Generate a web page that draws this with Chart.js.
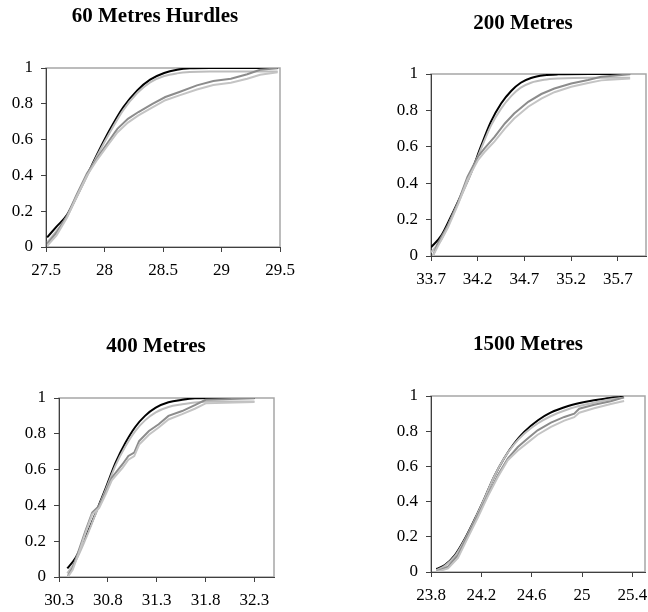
<!DOCTYPE html>
<html>
<head>
<meta charset="utf-8">
<script src="https://cdn.jsdelivr.net/npm/chart.js@4.4.1/dist/chart.umd.min.js"></script>
<style>
  html, body { margin: 0; padding: 0; background: #fff; }
  body { width: 648px; height: 612px; position: relative; overflow: hidden; }
  canvas { position: absolute; }
  .title {
    position: absolute; width: 300px; text-align: center;
    font: bold 21px/24px "Liberation Serif", "Times New Roman", serif; color: #000;
  }
</style>
</head>
<body>
<canvas id="c1"></canvas>
<canvas id="c2"></canvas>
<canvas id="c3"></canvas>
<canvas id="c4"></canvas>
<script>
// --- data (cumulative proportion vs time) ---
const yTicks = [0, 0.2, 0.4, 0.6, 0.8, 1];

// 60 Metres Hurdles
const hurdlesTicks = [27.5, 28, 28.5, 29, 29.5];
const hurdlesModelX = [27.51, 27.59, 27.68, 27.76, 27.85, 27.95, 28.05, 28.16, 28.28, 28.39, 28.51, 28.62, 28.73, 28.9, 29.2, 29.48];
const hurdlesModelY = [0.054, 0.114, 0.18, 0.28, 0.40, 0.535, 0.66, 0.78, 0.875, 0.935, 0.972, 0.99, 0.998, 1, 1, 1];
const hurdlesFitY   = [0.025, 0.09, 0.17, 0.275, 0.395, 0.525, 0.645, 0.765, 0.86, 0.92, 0.955, 0.97, 0.977, 0.98, 0.98, 0.98];
const hurdlesDataX  = [27.51, 27.59, 27.68, 27.76, 27.85, 27.94, 28.03, 28.11, 28.2, 28.29, 28.41, 28.52, 28.64, 28.79, 28.93, 29.08, 29.22, 29.33, 29.48];
const hurdlesDataY  = [0.017, 0.08, 0.175, 0.29, 0.41, 0.50, 0.585, 0.66, 0.716, 0.754, 0.80, 0.838, 0.866, 0.903, 0.927, 0.94, 0.965, 0.99, 0.998];
const hurdlesData2Y = [0.007, 0.065, 0.165, 0.28, 0.40, 0.49, 0.57, 0.64, 0.695, 0.735, 0.78, 0.82, 0.847, 0.88, 0.905, 0.918, 0.94, 0.962, 0.976];

// 200 Metres
const m200Ticks = [33.7, 34.2, 34.7, 35.2, 35.7];
const m200ModelX = [33.70, 33.81, 33.91, 34.02, 34.13, 34.24, 34.34, 34.45, 34.56, 34.66, 34.77, 34.91, 35.06, 35.4, 35.83];
const m200ModelY = [0.048, 0.112, 0.213, 0.333, 0.46, 0.61, 0.737, 0.838, 0.908, 0.952, 0.978, 0.993, 0.998, 1, 1];
const m200FitY   = [0.02, 0.09, 0.2, 0.325, 0.455, 0.595, 0.715, 0.81, 0.88, 0.925, 0.952, 0.968, 0.975, 0.98, 0.98];
const m200DataX  = [33.72, 33.77, 33.88, 33.99, 34.09, 34.2, 34.27, 34.38, 34.49, 34.59, 34.74, 34.88, 35.02, 35.2, 35.38, 35.52, 35.83];
const m200DataY  = [0.0, 0.066, 0.167, 0.296, 0.434, 0.544, 0.59, 0.654, 0.728, 0.783, 0.847, 0.89, 0.92, 0.948, 0.967, 0.985, 0.998];
const m200Data2Y = [0.0, 0.05, 0.155, 0.285, 0.42, 0.525, 0.57, 0.63, 0.7, 0.755, 0.82, 0.865, 0.9, 0.93, 0.95, 0.965, 0.975];

// 400 Metres
const m400Ticks = [30.3, 30.8, 31.3, 31.8, 32.3];
const m400ModelX = [30.385, 30.47, 30.57, 30.67, 30.78, 30.88, 30.98, 31.08, 31.18, 31.29, 31.42, 31.56, 31.69, 31.9, 32.3];
const m400ModelY = [0.048, 0.108, 0.22, 0.35, 0.50, 0.64, 0.75, 0.838, 0.90, 0.946, 0.976, 0.99, 0.998, 1, 1];
const m400FitY   = [0.02, 0.09, 0.21, 0.345, 0.49, 0.625, 0.73, 0.815, 0.875, 0.92, 0.95, 0.965, 0.975, 0.98, 0.98];
const m400DataX  = [30.39, 30.44, 30.5, 30.57, 30.64, 30.71, 30.78, 30.84, 30.95, 31.01, 31.07, 31.12, 31.22, 31.32, 31.42, 31.56, 31.69, 31.8, 32.3];
const m400DataY  = [0.005, 0.052, 0.145, 0.257, 0.36, 0.397, 0.48, 0.555, 0.63, 0.676, 0.695, 0.76, 0.816, 0.853, 0.9, 0.927, 0.96, 0.99, 0.998];
const m400Data2Y = [0.0, 0.04, 0.13, 0.245, 0.35, 0.385, 0.465, 0.54, 0.61, 0.655, 0.675, 0.74, 0.795, 0.835, 0.88, 0.91, 0.94, 0.97, 0.978];

// 1500 Metres
const m1500Ticks = [23.8, 24.2, 24.6, 25, 25.4];
const m1500ModelX = [23.842, 23.91, 23.99, 24.07, 24.15, 24.23, 24.30, 24.38, 24.46, 24.54, 24.65, 24.75, 24.89, 25.02, 25.18, 25.33];
const m1500ModelY = [0.017, 0.04, 0.096, 0.19, 0.304, 0.427, 0.54, 0.645, 0.73, 0.796, 0.862, 0.905, 0.943, 0.966, 0.985, 0.996];
const m1500FitY   = [0.01, 0.035, 0.09, 0.185, 0.3, 0.425, 0.54, 0.645, 0.725, 0.785, 0.845, 0.885, 0.925, 0.95, 0.975, 0.99];
const m1500DataX  = [23.842, 23.935, 24.014, 24.093, 24.172, 24.251, 24.331, 24.41, 24.49, 24.568, 24.647, 24.753, 24.859, 24.938, 24.977, 25.096, 25.228, 25.334];
const m1500DataY  = [0.002, 0.03, 0.096, 0.21, 0.323, 0.437, 0.55, 0.645, 0.71, 0.758, 0.805, 0.849, 0.881, 0.9, 0.928, 0.95, 0.97, 0.992];
const m1500Data2Y = [0.0, 0.02, 0.08, 0.195, 0.31, 0.43, 0.54, 0.635, 0.69, 0.735, 0.78, 0.825, 0.86, 0.88, 0.905, 0.93, 0.955, 0.972];

const pts = (xs, ys) => xs.map((x, i) => ({ x, y: ys[i] }));
const fmt = v => String(Math.round(v * 10) / 10);

// draws the grey plot-area frame behind the axes
const frame = {
  id: 'frame',
  beforeDraw(chart) {
    const a = chart.chartArea, c = chart.ctx;
    c.save();
    c.strokeStyle = '#a6a6a6';
    c.lineWidth = 1.5;
    c.strokeRect(a.left, a.top, a.right - a.left, a.bottom - a.top);
    c.restore();
  }
};

function addTitle(text, tx, ty) {
  const d = document.createElement('div');
  d.className = 'title';
  d.textContent = text;
  d.style.left = (tx - 150) + 'px';
  d.style.top = (ty - 12) + 'px';
  document.body.appendChild(d);
}

// box: canvas position, area: wanted plot area, tx/ty: title centre
function makeChart(id, title, box, area, tx, ty, xMin, xMax, xTicks, series) {
  addTitle(title, tx, ty);
  const cv = document.getElementById(id);
  cv.width = box.w; cv.height = box.h;
  cv.style.left = box.x + 'px'; cv.style.top = box.y + 'px';
  const yW = area.l - box.x;
  const hX = 40;
  new Chart(cv, {
    type: 'line',
    data: {
      datasets: series.map(s => ({
        data: s.data, borderColor: s.color, borderWidth: s.width,
        pointRadius: 0, fill: false,
        cubicInterpolationMode: s.smooth ? 'monotone' : 'default',
        tension: 0
      }))
    },
    options: {
      responsive: false,
      animation: false,
      layout: {
        padding: {
          left: 0,
          right: box.x + box.w - area.r,
          top: area.t - box.y,
          bottom: box.y + box.h - area.b - hX
        }
      },
      plugins: {
        legend: { display: false },
        tooltip: { enabled: false },
        title: { display: false }
      },
      scales: {
        x: {
          type: 'linear', min: xMin, max: xMax,
          afterBuildTicks: s => { s.ticks = xTicks.map(v => ({ value: v })); },
          afterFit: s => { s.height = hX; s.paddingLeft = 0; s.paddingRight = 0; },
          ticks: { color: '#000', padding: 8, maxRotation: 0, autoSkip: false,
                   font: { family: 'Liberation Serif', size: 17 }, callback: fmt },
          grid: { drawOnChartArea: false, tickLength: 5, tickColor: '#404040' },
          border: { color: '#404040', width: 1 }
        },
        y: {
          min: 0, max: 1,
          afterBuildTicks: s => { s.ticks = yTicks.map(v => ({ value: v })); },
          afterFit: s => { s.width = yW; s.paddingTop = 0; s.paddingBottom = 0; },
          ticks: { color: '#000', padding: 8,
                   font: { family: 'Liberation Serif', size: 17 }, callback: fmt },
          grid: { drawOnChartArea: false, tickLength: 5, tickColor: '#404040' },
          border: { color: '#404040', width: 1 }
        }
      }
    },
    plugins: [frame]
  });
}

function seriesOf(mx, my, fy, dx, dy, d2y) {
  return [
    { data: pts(dx, d2y), color: '#c4c4c4', width: 2 },
    { data: pts(dx, dy),  color: '#8c8c8c', width: 2 },
    { data: pts(mx, fy),  color: '#bdbdbd', width: 2, smooth: true },
    { data: pts(mx, my),  color: '#000000', width: 2, smooth: true }
  ];
}

makeChart('c1', '60 Metres Hurdles', { x: 0, y: 0, w: 306, h: 300 },
  { l: 46, r: 280, t: 68, b: 247 }, 155, 15, 27.5, 29.5, hurdlesTicks,
  seriesOf(hurdlesModelX, hurdlesModelY, hurdlesFitY, hurdlesDataX, hurdlesDataY, hurdlesData2Y));

makeChart('c2', '200 Metres', { x: 330, y: 0, w: 318, h: 300 },
  { l: 431, r: 646, t: 74, b: 256 }, 523, 22, 33.7, 36.0, m200Ticks,
  seriesOf(m200ModelX, m200ModelY, m200FitY, m200DataX, m200DataY, m200Data2Y));

makeChart('c3', '400 Metres', { x: 0, y: 306, w: 306, h: 306 },
  { l: 59, r: 274, t: 398, b: 577 }, 156, 345, 30.3, 32.5, m400Ticks,
  seriesOf(m400ModelX, m400ModelY, m400FitY, m400DataX, m400DataY, m400Data2Y));

makeChart('c4', '1500 Metres', { x: 330, y: 306, w: 318, h: 306 },
  { l: 431, r: 645, t: 396, b: 572 }, 528, 343, 23.8, 25.5, m1500Ticks,
  seriesOf(m1500ModelX, m1500ModelY, m1500FitY, m1500DataX, m1500DataY, m1500Data2Y));
</script>
</body>
</html>
